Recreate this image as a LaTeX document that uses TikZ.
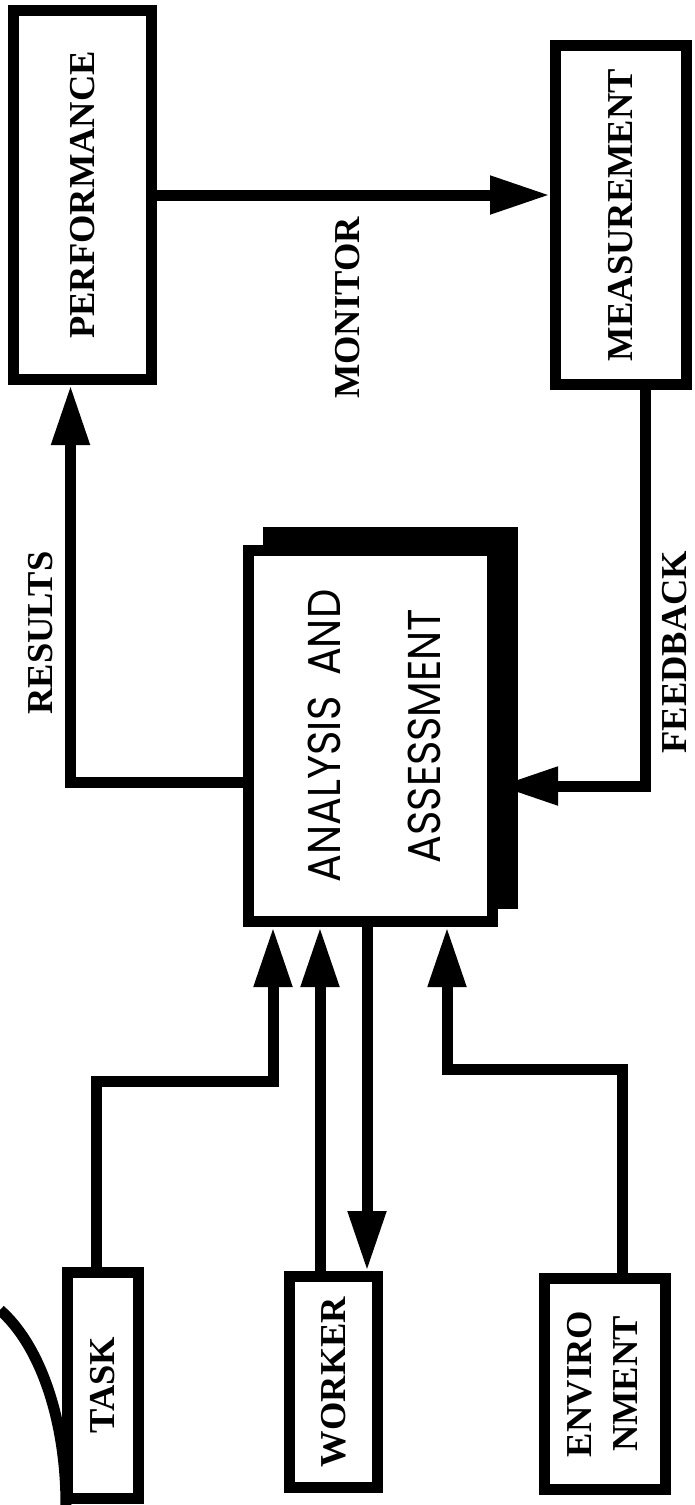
\documentclass[tikz,border=0pt]{standalone}
\usepackage{fontspec}
\setmainfont{Liberation Serif}
\newfontfamily\gothicfont{Poppins}
\usetikzlibrary{arrows.meta}

\tikzset{
	box/.style={draw, line width=11pt, fill=white, inner sep=0pt},
	link/.style={line width=11pt},
	arr/.style={link, -{Triangle[length=60pt, width=36pt]}},
}

\begin{document}
\begin{tikzpicture}[x=1pt, y=-1pt, font=\fontsize{36.5pt}{46pt}\selectfont\bfseries]
	
	\fill[white] (0,0) rectangle (695,1505);
	\useasboundingbox (0,0) rectangle (695,1505);
	
	% top row
	\node[box, minimum width=138pt, minimum height=369pt] (perf) at (82.5,195) {\rotatebox{90}{PERFORMANCE}};
	\node[box, minimum width=131pt, minimum height=339pt] (meas) at (621,215) {\rotatebox{90}{MEASUREMENT}};
	
	% centre box with its shadow
	\fill (263,527) rectangle (518,909);
	\node[box, minimum width=244pt, minimum height=371pt, font=\gothicfont\fontsize{46pt}{100pt}\selectfont] (ana) at (370.5,736)
		{\rotatebox{90}{\scalebox{0.9}[1]{\begin{tabular}{@{}c@{}}ANALYSIS\hspace{0.5em}AND\\ASSESSMENT\end{tabular}}}};
	
	% inputs
	\node[box, minimum width=71pt, minimum height=226pt] (task) at (103,1385) {\rotatebox{90}{TASK}};
	\node[box, minimum width=88pt, minimum height=211pt] (worker) at (333.5,1382) {\rotatebox{90}{WORKER}};
	\node[box, minimum width=121pt, minimum height=211pt] (env) at (605,1384)
		{\rotatebox{90}{\begin{tabular}{@{}c@{}}ENVIRO\\NMENT\end{tabular}}};
	
	\node (monitor) at (348,308) {\rotatebox{90}{MONITOR}};
	\node (results) at (41,633) {\rotatebox{90}{RESULTS}};
	\node (feedback) at (675,652) {\rotatebox{90}{FEEDBACK}};
	
	% loop
	\draw[arr] (perf.east) -- (perf.east -| meas.west);
	\draw[arr] ([yshift=-46pt]ana.west) -| ([xshift=-12pt]perf.south);
	\draw[arr] ([xshift=24pt]meas.south) |- ([yshift=-50pt]ana.east);
	
	\draw[arr] ([xshift=-7pt]task.north) -- ++(0,-185) -| ([xshift=-97.5pt]ana.south);
	\draw[arr] ([xshift=-13.5pt]worker.north) -- ([xshift=-50.5pt]ana.south);
	\draw[arr] ([xshift=-3.5pt]ana.south) -- ([xshift=33.5pt]worker.north);
	\draw[arr] ([xshift=17pt]env.north) -- ++(0,-204) -| ([xshift=76.5pt]ana.south);
	
	\draw[link] (0,1310) .. controls (40,1345) and (66,1420) .. (66,1505);
	
\end{tikzpicture}
\end{document}
